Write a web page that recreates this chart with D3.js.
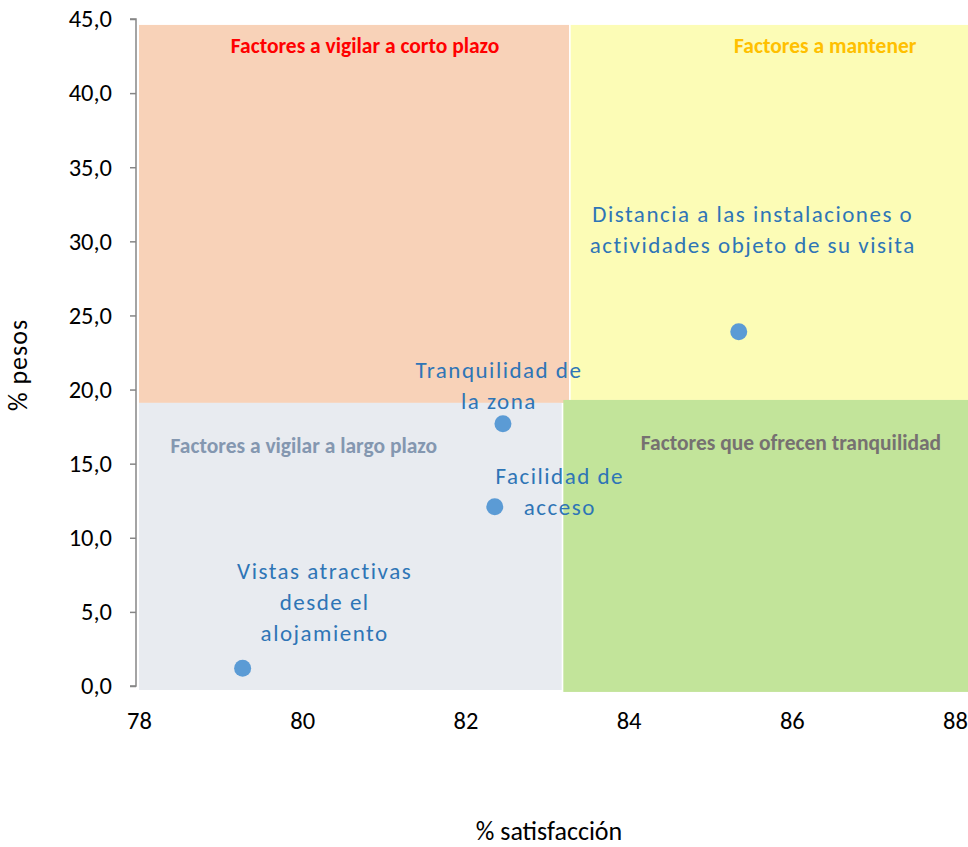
<!DOCTYPE html>
<html>
<head>
<meta charset="utf-8">
<script src="https://cdn.jsdelivr.net/npm/d3@7/dist/d3.min.js"></script>
<style>
  html, body { margin: 0; padding: 0; background: #fff; }
  svg { display: block; }
  text { font-family: Carlito, Lato, "Open Sans", sans-serif; }
</style>
</head>
<body>
<svg id="chart" width="968" height="847"></svg>
<script>
// Factors: satisfaction (%) vs weight (%)
const factors = [
  "Distancia a las instalaciones o actividades objeto de su visita",
  "Tranquilidad de la zona",
  "Facilidad de acceso",
  "Vistas atractivas desde el alojamiento"
];
const satisfaction = [85.35, 82.46, 82.36, 79.27];
const weights = [23.9, 17.7, 12.1, 1.2];
const labelLines = [
  ["Distancia a las instalaciones o", "actividades objeto de su visita"],
  ["Tranquilidad de", "la zona"],
  ["Facilidad de", "acceso"],
  ["Vistas atractivas", "desde el", "alojamiento"]
];

const xTicks = [78, 80, 82, 84, 86, 88];
const yTicks = [0, 5, 10, 15, 20, 25, 30, 35, 40, 45];

// Quadrant backgrounds in data units: [x0, x1, y0, y1]
const quadrantNames = [
  "Factores a vigilar a corto plazo",
  "Factores a mantener",
  "Factores a vigilar a largo plazo",
  "Factores que ofrecen tranquilidad"
];
const quadrantX0 = [78, 83.29, 78, 83.2];
const quadrantX1 = [83.27, 88.2, 83.18, 88.2];
const quadrantY0 = [19.1, 19.3, -0.27, -0.4];
const quadrantY1 = [44.6, 44.6, 19.1, 19.3];

// Layout
const FONT = "Carlito, Lato, 'Open Sans', sans-serif";
const quadrantFill = ["#F8D2B8", "#FCFCB6", "#E8EBF0", "#C2E49A"];
const quadrantText = ["#FF0000", "#FFC000", "#8497B0", "#767171"];
const quadrantLabelPos = [[80.77, 42.7], [86.41, 42.7], [80.02, 15.72], [85.99, 15.92]];
// label offsets in px from the point: centre dx, first-baseline dy
const labelOffset = [[14, -110], [-4, -46], [65, -23], [82, -89]];

const svg = d3.select("#chart");
const x = d3.scaleLinear().domain([78, 88]).range([139, 955]);
const y = d3.scaleLinear().domain([0, 45]).range([686, 19]);

// quadrant rectangles
const quads = quadrantNames.map((n, i) => ({
  name: n, x0: quadrantX0[i], x1: quadrantX1[i], y0: quadrantY0[i], y1: quadrantY1[i], i
}));
svg.append("g").selectAll("rect").data(quads).join("rect")
  .attr("x", d => x(d.x0))
  .attr("width", d => x(d.x1) - x(d.x0))
  .attr("y", d => y(d.y1))
  .attr("height", d => y(d.y0) - y(d.y1))
  .attr("fill", d => quadrantFill[d.i]);

svg.append("g").selectAll("text").data(quads).join("text")
  .attr("x", d => x(quadrantLabelPos[d.i][0]))
  .attr("y", d => y(quadrantLabelPos[d.i][1]))
  .attr("text-anchor", "middle")
  .attr("font-size", 21.5)
  .attr("font-weight", "bold")
  .attr("fill", d => quadrantText[d.i])
  .text(d => d.name);

// y axis
const yAxis = d3.axisLeft(y).tickValues(yTicks).tickSize(6).tickPadding(18)
  .tickFormat(d => d3.format(".1f")(d).replace(".", ","));
const gy = svg.append("g").attr("transform", "translate(136,0)").call(yAxis);
gy.attr("font-family", FONT);
gy.select(".domain").attr("stroke", "#868686").attr("stroke-width", 1.5)
  .attr("d", `M-6,${y(45)}H0V${y(0)}H-6`);
gy.selectAll(".tick line").attr("stroke", "#868686").attr("stroke-width", 1.5);
gy.selectAll(".tick text").attr("font-size", 24.5).attr("fill", "#000");

// x axis labels (no axis line)
const xAxis = d3.axisBottom(x).tickValues(xTicks).tickSize(0).tickPadding(0)
  .tickFormat(d3.format("d"));
const gx = svg.append("g").attr("transform", "translate(0,712)").call(xAxis);
gx.attr("font-family", FONT);
gx.select(".domain").remove();
gx.selectAll(".tick text").attr("font-size", 24.5).attr("fill", "#000");

// axis titles
svg.append("text").attr("x", 549).attr("y", 840).attr("text-anchor", "middle")
  .attr("font-size", 26).attr("fill", "#000").text("% satisfacción");
svg.append("text").attr("transform", "translate(27,365) rotate(-90)")
  .attr("text-anchor", "middle").attr("font-size", 26).attr("fill", "#000")
  .attr("letter-spacing", 1).text("% pesos");

// points and labels
const pts = factors.map((f, i) => ({ f, sx: satisfaction[i], w: weights[i], i }));
svg.append("g").selectAll("circle").data(pts).join("circle")
  .attr("cx", d => x(d.sx)).attr("cy", d => y(d.w)).attr("r", 8.5)
  .attr("fill", "#5B9BD5");

const lbl = svg.append("g").selectAll("text").data(pts).join("text")
  .attr("text-anchor", "middle")
  .attr("font-size", 23)
  .attr("letter-spacing", 1.5)
  .attr("fill", "#2E75B6");
lbl.each(function (d) {
  const t = d3.select(this);
  const cx = x(d.sx) + labelOffset[d.i][0];
  const by = y(d.w) + labelOffset[d.i][1];
  labelLines[d.i].forEach((line, k) => {
    t.append("tspan").attr("x", cx).attr("y", by + k * 31).text(line);
  });
});
</script>
</body>
</html>
